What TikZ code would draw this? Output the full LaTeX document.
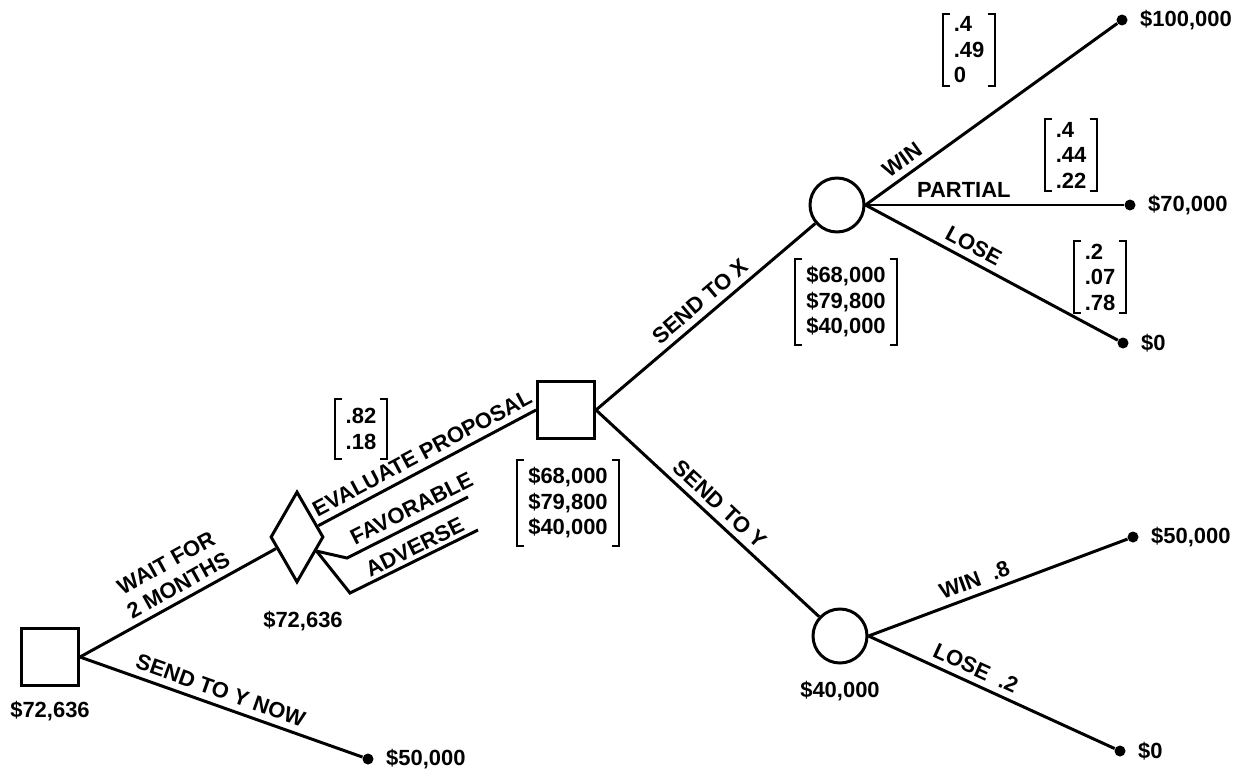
\documentclass[tikz,border=0pt]{standalone}
\usepackage{fontspec}
\setmainfont{Liberation Sans}
\usetikzlibrary{shapes.geometric,calc}

\begin{document}
\begin{tikzpicture}[x=0.02cm,y=-0.02cm,
  font=\fontsize{12.5}{14.5}\selectfont\bfseries,
  act/.style={draw,line width=1.7pt,minimum size=1.14cm,inner sep=0pt},
  chance/.style={draw,circle,line width=1.7pt,minimum size=1.08cm,inner sep=0pt},
  survey/.style={draw,diamond,line width=1.7pt,minimum width=1.06cm,minimum height=1.82cm,inner sep=0pt},
  dot/.style={circle,fill,inner sep=0pt,minimum size=0.22cm},
  pay/.style={anchor=west,inner sep=0pt,xshift=0.24cm},
  br/.style={line width=1.7pt},
  lab/.style={sloped,above,inner sep=3.5pt},
  brk/.style={align=left,inner xsep=6pt,inner ysep=1.5pt,
    append after command={\pgfextra{
      \draw[line width=1.1pt]
        ([xshift=4pt]\tikzlastnode.north west) -- (\tikzlastnode.north west)
        -- (\tikzlastnode.south west) -- ([xshift=4pt]\tikzlastnode.south west)
        ([xshift=-4pt]\tikzlastnode.north east) -- (\tikzlastnode.north east)
        -- (\tikzlastnode.south east) -- ([xshift=-4pt]\tikzlastnode.south east);}}}]
  \useasboundingbox (0,0) rectangle (1236,774);

  % decision, survey and chance points
  \node[act] (start) at (50,657) {};
  \node[survey] (survey) at (297,537) {};
  \node[act] (choose) at (566,410) {};
  \node[chance] (trialx) at (837,205) {};
  \node[chance] (trialy) at (840,636) {};
  % end points
  \node[dot] (now) at (368,759) {};
  \node[dot] (xwin) at (1122,20) {};
  \node[dot] (xpart) at (1130,205) {};
  \node[dot] (xlose) at (1123,343) {};
  \node[dot] (ywin) at (1133,537) {};
  \node[dot] (ylose) at (1120,751) {};

  % branches
  \draw[br] (start.east) -- node[lab,pos=0.54,align=center] {WAIT FOR\\2 MONTHS} (survey);
  \draw[br] (start.east) -- node[lab,pos=0.48] {SEND TO Y NOW} (now);
  \draw[br] (survey) -- node[lab,pos=0.51] {EVALUATE PROPOSAL} (choose.west);
  \coordinate (fork) at ($(survey.east)!0.3!(survey.south)$);
  \coordinate (fav1) at (347,558);
  \coordinate (fav2) at (468,497);
  \coordinate (adv1) at (350,593);
  \coordinate (adv2) at (478,530);
  \draw[br] (fork) -- (fav1) -- node[lab,pos=0.59] {FAVORABLE} (fav2);
  \draw[br] (fork) -- (adv1) -- node[lab,pos=0.55,inner sep=2pt] {ADVERSE} (adv2);
  \draw[br] (choose.east) -- node[lab,pos=0.52] {SEND TO X} (trialx);
  \draw[br] (choose.east) -- node[lab,pos=0.51] {SEND TO Y} (trialy);
  \draw[br] (trialx.east) -- node[lab,pos=0.18] {WIN} (xwin);
  \draw[br] (trialx.east) -- node[lab,pos=0.38] {PARTIAL} (xpart);
  \draw[br] (trialx.east) -- node[lab,pos=0.40] {LOSE} (xlose);
  \draw[br] (trialy.east) -- node[lab,pos=0.43] {WIN\ \ .8} (ywin);
  \draw[br] (trialy.east) -- node[lab,pos=0.41] {LOSE\ \ .2} (ylose);

  % payoffs
  \node[pay] (vnow) at (now.east) {\$50,000};
  \node[pay] (vxwin) at (xwin.east) {\$100,000};
  \node[pay] (vxpart) at (xpart.east) {\$70,000};
  \node[pay] (vxlose) at (xlose.east) {\$0};
  \node[pay] (vywin) at (ywin.east) {\$50,000};
  \node[pay] (vylose) at (ylose.east) {\$0};

  % expected values and probabilities
  \node (evstart) at (50,711) {\$72,636};
  \node (evsurvey) at (303,621) {\$72,636};
  \node (evtrialy) at (840,691) {\$40,000};
  \node[brk,inner ysep=5pt] (psurvey) at (361,429) {.82\\.18};
  \node[brk,inner ysep=4pt] (evchoose) at (568,503) {\$68,000\\\$79,800\\\$40,000};
  \node[brk,inner ysep=4pt] (evtrialx) at (846,302) {\$68,000\\\$79,800\\\$40,000};
  \node[brk] (pxwin) at (969,50) {.4\\.49\\0};
  \node[brk] (pxpart) at (1071,155) {.4\\.44\\.22};
  \node[brk] (pxlose) at (1100,277) {.2\\.07\\.78};
\end{tikzpicture}
\end{document}
